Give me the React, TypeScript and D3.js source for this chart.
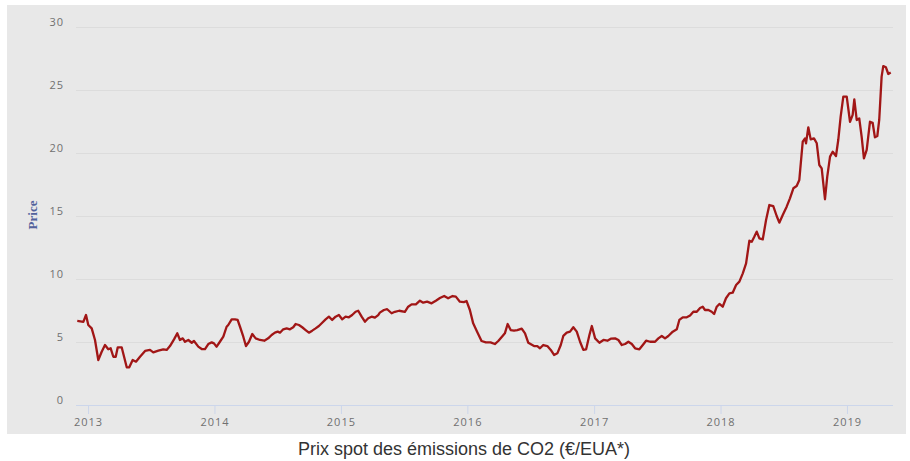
import React, { useRef, useEffect } from "react";
import * as d3 from "d3";

// EUA spot price, weekly-ish readings (decimal year, €/t)
const years = [
  2012.915, 2012.963, 2012.984, 2013.002, 2013.029, 2013.055, 2013.081, 2013.108, 2013.134, 2013.160,
  2013.179, 2013.200, 2013.219, 2013.235, 2013.266, 2013.285, 2013.306, 2013.326, 2013.353, 2013.379,
  2013.411, 2013.451, 2013.490, 2013.516, 2013.556, 2013.595, 2013.622, 2013.648, 2013.680, 2013.706,
  2013.727, 2013.749, 2013.767, 2013.793, 2013.820, 2013.838, 2013.872, 2013.899, 2013.925, 2013.951,
  2013.978, 2013.996, 2014.017, 2014.043, 2014.070, 2014.096,
  2014.109, 2014.136, 2014.162, 2014.183, 2014.202, 2014.228, 2014.249, 2014.273, 2014.299, 2014.326,
  2014.360, 2014.394, 2014.425, 2014.452, 2014.478, 2014.500, 2014.518, 2014.544, 2014.571, 2014.597,
  2014.623, 2014.642, 2014.668, 2014.694, 2014.721, 2014.747, 2014.773, 2014.800, 2014.826, 2014.852,
  2014.879, 2014.905, 2014.931, 2014.958, 2014.984, 2015.010, 2015.037, 2015.063, 2015.089, 2015.116,
  2015.137, 2015.164, 2015.190, 2015.216, 2015.243, 2015.269, 2015.295,
  2015.308, 2015.340, 2015.366, 2015.401, 2015.427, 2015.461, 2015.506, 2015.532, 2015.559, 2015.593,
  2015.625, 2015.651, 2015.682, 2015.717, 2015.751, 2015.783, 2015.817, 2015.848, 2015.883, 2015.909,
  2015.941, 2015.972, 2015.994, 2016.020, 2016.046, 2016.077, 2016.112, 2016.146, 2016.183, 2016.217,
  2016.244, 2016.278, 2016.296, 2016.318, 2016.342, 2016.368, 2016.394, 2016.429, 2016.455, 2016.481,
  2016.526, 2016.552, 2016.573, 2016.599, 2016.631, 2016.658, 2016.684, 2016.710, 2016.737, 2016.757,
  2016.784, 2016.810, 2016.836, 2016.863, 2016.889, 2016.915, 2016.937, 2016.963, 2016.982, 2017.008,
  2017.042, 2017.074, 2017.105, 2017.132, 2017.166, 2017.192, 2017.219, 2017.245, 2017.271, 2017.298,
  2017.324, 2017.358, 2017.385, 2017.411, 2017.443, 2017.482, 2017.508, 2017.535, 2017.561, 2017.587,
  2017.622, 2017.654, 2017.674, 2017.701, 2017.733, 2017.759,
  2017.785, 2017.812, 2017.838, 2017.859, 2017.877, 2017.904, 2017.930, 2017.949, 2017.970, 2017.991,
  2018.017, 2018.043, 2018.070, 2018.096, 2018.123, 2018.149, 2018.176, 2018.202, 2018.228, 2018.247,
  2018.265, 2018.286, 2018.307, 2018.334, 2018.360, 2018.386, 2018.417, 2018.444, 2018.465, 2018.492,
  2018.523, 2018.549, 2018.576, 2018.602, 2018.623,
  2018.650, 2018.668, 2018.676, 2018.694, 2018.713, 2018.739, 2018.761, 2018.781, 2018.800, 2018.826,
  2018.844, 2018.866, 2018.887, 2018.913, 2018.931, 2018.950, 2018.971, 2018.998, 2019.024, 2019.045,
  2019.058, 2019.077, 2019.097, 2019.116, 2019.134, 2019.156, 2019.182, 2019.203, 2019.221, 2019.240,
  2019.255, 2019.274, 2019.287, 2019.308, 2019.327, 2019.346,
];

const prices = [
  6.67, 6.6, 7.14, 6.35, 6.08, 5.16, 3.57, 4.23, 4.76, 4.42,
  4.5, 3.83, 3.83, 4.58, 4.58, 3.83, 2.99, 2.99, 3.57, 3.44,
  3.83, 4.29, 4.37, 4.18, 4.31, 4.42, 4.37, 4.68, 5.21, 5.69,
  5.16, 5.29, 5.02, 5.16, 4.94, 5.08, 4.63, 4.44, 4.44, 4.84,
  4.97, 4.89, 4.63, 5.02, 5.42, 6.21,
  6.35, 6.8, 6.8, 6.75, 6.21, 5.42, 4.68, 5.02, 5.63, 5.29,
  5.16, 5.1, 5.29, 5.56, 5.74, 5.82, 5.74, 6.01, 6.08, 6.01,
  6.17, 6.43, 6.35, 6.17, 5.95, 5.74, 5.9, 6.08, 6.27, 6.53,
  6.8, 7.01, 6.75, 7.01, 7.14, 6.8, 7.01, 6.96, 7.14, 7.4,
  7.48, 7.01, 6.61, 6.88, 7.01, 6.93, 7.14,
  7.33, 7.54, 7.6, 7.28, 7.4, 7.48, 7.4, 7.8, 7.99, 7.99,
  8.28, 8.12, 8.2, 8.07, 8.28, 8.49, 8.65, 8.47, 8.65, 8.6,
  8.2, 8.17, 8.25, 7.54, 6.48, 5.82, 5.08, 4.97, 4.97, 4.84,
  5.08, 5.48, 5.69, 6.43, 5.95, 5.9, 5.95, 6.06, 5.69, 4.94,
  4.68, 4.68, 4.5, 4.76, 4.68, 4.37, 3.97, 4.1, 4.76, 5.48,
  5.74, 5.82, 6.17, 5.82, 5.02, 4.37, 4.42, 5.56, 6.27, 5.29,
  4.94, 5.16, 5.1, 5.26, 5.29, 5.16, 4.76, 4.84, 5.02, 4.84,
  4.5, 4.42, 4.76, 5.1, 5.02, 5.02, 5.29, 5.48, 5.29, 5.48,
  5.82, 6.01, 6.75, 6.96, 6.96, 7.1,
  7.4, 7.4, 7.7, 7.8, 7.54, 7.54, 7.4, 7.22, 7.8, 8.02,
  7.8, 8.47, 8.86, 8.91, 9.52, 9.79, 10.45, 11.24, 13.04, 12.96,
  13.31, 13.76, 13.23, 13.15, 14.68, 15.87, 15.79, 15.0, 14.47, 15.08,
  15.74, 16.4, 17.2, 17.38, 17.86,
  20.9, 21.16, 20.77, 22.04, 21.08, 21.16, 20.77, 19.05, 18.78, 16.33,
  18.12, 19.71, 20.1, 19.76, 21.03, 22.88, 24.47, 24.47, 22.48, 23.02,
  24.26, 22.62, 22.75, 21.3, 19.58, 20.24, 22.48, 22.4, 21.24, 21.35,
  22.62, 26.06, 26.9, 26.8, 26.27, 26.38,
];

const yTicks = [0, 5, 10, 15, 20, 25, 30];
const yearTicks = [2013, 2014, 2015, 2016, 2017, 2018, 2019];
const chartTitle = "Prix spot des émissions de CO2 (€/EUA*)";
const yAxisTitle = "Price";

// decimal year -> Date
const toDate = (y: number) => {
  const yr = Math.floor(y);
  const start = Date.UTC(yr, 0, 1);
  const end = Date.UTC(yr + 1, 0, 1);
  return new Date(start + (y - yr) * (end - start));
};

const W = 910;
const H = 461;
const left = 76, right = 893, top = 27, bottom = 405;

const App = () => {
  const svgRef = useRef<SVGSVGElement>(null);

  useEffect(() => {
    document.body.style.margin = "0";
    const svg = d3.select(svgRef.current);
    svg.selectChildren().remove();

    const x = d3.scaleUtc()
      .domain([toDate(2012.905), toDate(2019.364)])
      .range([left, right]);
    const y = d3.scaleLinear()
      .domain([0, 30])
      .range([bottom, top]);

    // background panel
    svg.append("rect")
      .attr("x", 7).attr("y", 5)
      .attr("width", 899).attr("height", 429)
      .attr("fill", "#e8e8e8");

    // horizontal grid + y labels
    const yAxis = d3.axisLeft(y)
      .tickValues(yTicks)
      .tickSize(-(right - left))
      .tickPadding(13)
      .tickFormat(d3.format("d"));
    const gy = svg.append("g")
      .attr("transform", `translate(${left},0)`)
      .call(yAxis);
    gy.select(".domain").remove();
    gy.selectAll(".tick line").attr("stroke", "#dcdcdc").attr("stroke-width", 1);
    gy.selectAll(".tick text")
      .attr("fill", "#707070")
      .attr("font-family", "'Open Sans', sans-serif")
      .attr("font-size", 11)
      .attr("letter-spacing", 1)
      .attr("dx", 1)
      .attr("dy", "-0.1em");

    // x axis
    const xAxis = d3.axisBottom(x)
      .tickValues(yearTicks.map(toDate))
      .tickSize(9)
      .tickPadding(4)
      .tickFormat(d3.utcFormat("%Y") as any);
    const gx = svg.append("g")
      .attr("transform", `translate(0,${bottom})`)
      .call(xAxis);
    gx.select(".domain")
      .attr("d", `M${left},0.5H${right}`)
      .attr("stroke", "#ccd6eb");
    gx.selectAll(".tick line").attr("stroke", "#ccd6eb");
    gx.selectAll(".tick text")
      .attr("fill", "#707070")
      .attr("font-family", "'Open Sans', sans-serif")
      .attr("font-size", 11)
      .attr("letter-spacing", 1);

    // price line
    const data = years.map((yr, i) => ({ date: toDate(yr), value: prices[i] }));
    svg.append("path")
      .datum(data)
      .attr("fill", "none")
      .attr("stroke", "#a11616")
      .attr("stroke-width", 2.3)
      .attr("stroke-linejoin", "round")
      .attr("d", d3.line<{ date: Date; value: number }>()
        .x(d => x(d.date))
        .y(d => y(d.value))
      );

    // y axis title
    svg.append("text")
      .attr("transform", `translate(37, 215) rotate(-90)`)
      .attr("text-anchor", "middle")
      .attr("fill", "#52629c")
      .attr("font-family", "'Liberation Serif', serif")
      .attr("font-weight", "bold")
      .attr("font-size", 13)
      .text(yAxisTitle);

    // chart caption
    svg.append("text")
      .attr("x", 464)
      .attr("y", 455)
      .attr("text-anchor", "middle")
      .attr("fill", "#333")
      .attr("font-family", "'Liberation Sans', Arial, sans-serif")
      .attr("font-size", 18)
      .text(chartTitle);
  });

  return (
    <div>
      <svg ref={svgRef} width={W} height={H} style={{ display: "block" }}></svg>
    </div>
  );
};

export default App;
